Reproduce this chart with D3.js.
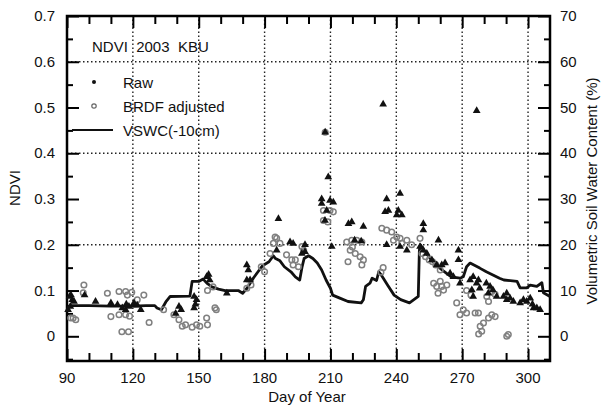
<!DOCTYPE html>
<html>
  <head>
    <meta charset="utf-8">
    <script src="https://d3js.org/d3.v7.min.js"></script>
    <title>NDVI 2003 KBU</title>
    <style>
      body { margin: 0; background: #fff; }
      text { font-family: Arial, "Liberation Sans", sans-serif; fill: #111; }
    </style>
  </head>
  <body>
    <div id="chart"></div>
  <script>

    // DATA (day of year, NDVI) and (day of year, VSWC %)

    var raw = [
	[90.5,0.058],[91.2,0.087],[91.8,0.09],[92.4,0.08],[93.2,0.076],[91.5,0.065],[98,0.09],[103,0.076],
	[110,0.073],[113,0.069],[115.2,0.062],[116.7,0.058],[118.2,0.065],[117,0.07],[120.5,0.073],[123.6,0.058],
	[122,0.068],[139.5,0.05],[141,0.065],[142,0.058],[147.9,0.087],[147.9,0.062],[149,0.08],[148.5,0.07],
	[153.6,0.13],[155,0.123],[154.5,0.135],[162.8,0.094],[171.9,0.156],[172.6,0.145],[173.4,0.123],[171.9,0.123],
	[186.3,0.257],[185.5,0.188],[191.6,0.206],[193,0.203],[197,0.181],[198.4,0.185],[198.4,0.2],[206,0.29],
	[208.3,0.275],[207.5,0.253],[209,0.348],[206,0.30],[211.3,0.293],[209.8,0.297],[210.6,0.196],[207.6,0.446],
	[218.2,0.246],[219.7,0.25],[225,0.24],[221,0.21],[224,0.208],[234,0.507],[276.6,0.493],[235.6,0.30],
	[236.4,0.275],[234.9,0.272],[241.7,0.312],[240.9,0.275],[242.5,0.265],[240.2,0.265],[235.6,0.2],[241.7,0.196],
	[244.8,0.188],[252.3,0.246],[252.3,0.232],[259.2,0.21],[250.8,0.196],[252.3,0.188],[253.9,0.181],[256.2,0.167],
	[258.4,0.156],[260.7,0.156],[262.2,0.16],[264.5,0.138],[266,0.13],[268.3,0.188],[268.3,0.167],[269,0.116],
	[273.6,0.123],[274.4,0.101],[276.6,0.116],[275,0.087],[278,0.105],[275,0.13],[277.4,0.123],[281,0.116],
	[281.9,0.094],[284,0.101],[285.7,0.087],[282.7,0.109],[288.8,0.087],[290.3,0.08],[291.8,0.083],[293.3,0.076],
	[296.4,0.073],[297.9,0.08],[299.4,0.076],[301,0.083],[302.5,0.062],[304,0.062],[290.3,0.094],[305.5,0.058],
	[302,0.07]
    ];

    var brdf = [
	[97.7,0.112],[97.4,0.095],[91.7,0.04],[94,0.036],[92.8,0.04],[108.4,0.094],[113.7,0.098],[116.7,0.098],
	[117.5,0.09],[119.5,0.096],[110,0.043],[113.7,0.047],[116.7,0.047],[118.5,0.044],[122,0.08],[125,0.09],
	[115,0.01],[118,0.01],[127.4,0.03],[134,0.058],[138.7,0.047],[141,0.036],[142.5,0.022],[144,0.025],
	[149,0.025],[150.5,0.022],[154,0.025],[153.6,0.04],[147,0.02],[154,0.1],[156.5,0.108],[157.4,0.062],
	[158,0.058],[171.9,0.105],[173.8,0.112],[178.5,0.152],[180,0.141],[182.5,0.181],[184,0.203],[185.5,0.214],
	[187,0.203],[184.8,0.217],[190,0.178],[192.4,0.167],[193,0.156],[194,0.167],[195.4,0.152],[197,0.196],
	[197.8,0.188],[206.8,0.275],[209.8,0.275],[211.3,0.272],[206.8,0.253],[208.8,0.25],[207.6,0.446],[217.4,0.206],
	[219.7,0.21],[222,0.21],[224.3,0.206],[219,0.188],[221.3,0.181],[223.5,0.174],[225,0.167],[218,0.163],
	[224.3,0.156],[220,0.195],[233.4,0.236],[235.6,0.232],[237.9,0.228],[240.2,0.217],[241.7,0.214],[244.8,0.21],
	[247,0.2],[238.7,0.21],[242.5,0.203],[233,0.14],[234,0.15],[250.8,0.214],[251.7,0.181],[253.3,0.174],
	[255,0.167],[256.5,0.163],[258,0.156],[260,0.145],[257,0.116],[258.4,0.109],[260,0.12],[261.5,0.101],
	[263,0.112],[259,0.094],[260.7,0.109],[267.5,0.073],[270.5,0.058],[272,0.051],[275.9,0.051],[269,0.047],
	[277.4,0.051],[278.2,0.022],[279.7,0.029],[282,0.04],[283.5,0.047],[285,0.043],[278.9,0.011],[277.5,0.005],
	[290.3,0.0],[291,0.004],[281.2,0.087],[282,0.076],[283.5,0.098],[285,0.092],[272,0.1],[274,0.09]
    ];

    var vswc = [
	[90,5.8],[91,6.6],[92,6.7],[100,6.7],[110,6.6],[120,6.6],[126,6.7],[130,6.7],[131,6.2],[133,5.8],
	[135,7.5],[137,8.7],[146,8.8],[147,12.0],[150,12.0],[152,12.5],[154,11.5],[156,10.8],[159,10.3],[162,10.0],
	[168,10.0],[170,9.4],[172,10.5],[175,12.8],[177,14.1],[179,15.4],[182,16.3],[184,17.6],[185,17.0],[187,16.5],
	[189,15.2],[192,14.1],[194,13.0],[196,12.3],[197,15.0],[198,17.0],[200,17.6],[202,17.0],[204,16.0],[206,14.5],
	[208,12.3],[210,10.5],[211,9.0],[214,8.4],[218,7.6],[224,7.3],[225,8.0],[226,10.9],[228,11.6],[229,12.7],
	[231,12.2],[232,14.1],[233,13.5],[236,11.2],[239,9.0],[242,8.0],[246,7.3],[248,8.0],[250,8.7],[250.5,18.8],
	[251,20.0],[253,18.5],[256,16.7],[259,15.2],[262,14.1],[265,13.0],[269,12.7],[270.5,13.0],[272,15.2],[273.6,16.0],
	[278,14.9],[281,14.1],[284,13.4],[287,12.7],[289,12.3],[295,12.0],[296.4,10.6],[299.4,10.6],[301,11.2],[304,10.9],
	[306.3,11.7],[307,9.5],[310,8.7]
    ];

    var xTicks = [90, 120, 150, 180, 210, 240, 270, 300];
    var yTicks = [0, 0.1, 0.2, 0.3, 0.4, 0.5, 0.6, 0.7];
    var y2Ticks = [0, 10, 20, 30, 40, 50, 60, 70];
    var gridX = [120, 150, 180, 210, 240, 270, 300];
    var gridY = [0.2, 0.4, 0.6];

    // LAYOUT

    const W = 601, H = 406;
    const margin = {top: 16, left: 67, right: 51, bottom: 45};

    var svg = d3.select('#chart').append('svg')
	.attr('width', W)
	.attr('height', H);

    var x = d3.scaleLinear().domain([90, 310]).range([margin.left, W - margin.right]);
    var y = d3.scaleLinear().domain([-0.054, 0.7]).range([H - margin.bottom, margin.top]);
    var y2 = d3.scaleLinear().domain([-5.4, 70]).range([H - margin.bottom, margin.top]);

    var x0 = margin.left, x1 = W - margin.right;
    var y0 = H - margin.bottom, y1 = margin.top;

    // grid
    var grid = svg.append('g')
	.attr('stroke', '#222')
	.attr('stroke-width', 1.4)
	.attr('stroke-dasharray', '1.5,2.5');
    grid.selectAll('line.gx').data(gridX).enter().append('line')
	.attr('x1', d => x(d)).attr('x2', d => x(d))
	.attr('y1', y0).attr('y2', y1);
    grid.selectAll('line.gy').data(gridY).enter().append('line')
	.attr('x1', x0).attr('x2', x1)
	.attr('y1', d => y(d)).attr('y2', d => y(d));

    // axes (ticks inward)
    var minorX = d3.range(100, 310, 10).filter(d => d % 30 != 0);
    var minorY = d3.range(-0.05, 0.7, 0.1);

    svg.append('g').attr('transform', 'translate(0,' + y0 + ')')
	.call(d3.axisTop(x).tickValues(xTicks).tickSize(12).tickFormat(''));
    svg.append('g').attr('transform', 'translate(0,' + y0 + ')')
	.call(d3.axisTop(x).tickValues(minorX).tickSize(8).tickFormat(''));
    svg.append('g').attr('transform', 'translate(0,' + y1 + ')')
	.call(d3.axisBottom(x).tickValues(xTicks).tickSize(12).tickFormat(''));
    svg.append('g').attr('transform', 'translate(0,' + y1 + ')')
	.call(d3.axisBottom(x).tickValues(minorX).tickSize(8).tickFormat(''));

    svg.append('g').attr('transform', 'translate(' + x0 + ',0)')
	.call(d3.axisRight(y).tickValues(yTicks).tickSize(12).tickFormat(''));
    svg.append('g').attr('transform', 'translate(' + x0 + ',0)')
	.call(d3.axisRight(y).tickValues(minorY).tickSize(6).tickFormat(''));
    svg.append('g').attr('transform', 'translate(' + x1 + ',0)')
	.call(d3.axisLeft(y2).tickValues(y2Ticks).tickSize(12).tickFormat(''));
    svg.append('g').attr('transform', 'translate(' + x1 + ',0)')
	.call(d3.axisLeft(y).tickValues(minorY).tickSize(6).tickFormat(''));

    svg.selectAll('.domain').remove();
    svg.selectAll('.tick line').attr('stroke', '#000').attr('stroke-width', 2);

    // tick labels
    svg.selectAll('text.xl').data(xTicks).enter().append('text')
	.attr('x', d => x(d)).attr('y', y0 + 22)
	.attr('text-anchor', 'middle').attr('font-size', 15)
	.text(d => d);
    svg.selectAll('text.yl').data(yTicks).enter().append('text')
	.attr('x', x0 - 12).attr('y', d => y(d) + 5)
	.attr('text-anchor', 'end').attr('font-size', 15)
	.text(d => d3.format('.1f')(d).replace('0.0', '0'));
    svg.selectAll('text.y2l').data(y2Ticks).enter().append('text')
	.attr('x', x1 + 10).attr('y', d => y2(d) + 5)
	.attr('text-anchor', 'start').attr('font-size', 15)
	.text(d => d);

    // axis titles
    svg.append('text').attr('x', 307).attr('y', 402)
	.attr('text-anchor', 'middle').attr('font-size', 15).text('Day of Year');
    svg.append('text').attr('transform', 'translate(20,188) rotate(-90)')
	.attr('text-anchor', 'middle').attr('font-size', 15).text('NDVI');
    svg.append('text').attr('transform', 'translate(597,191) rotate(-90)')
	.attr('text-anchor', 'middle').attr('font-size', 15).text('Volumetric Soil Water Content (%)');

    // frame
    svg.append('rect')
	.attr('x', x0).attr('y', y1)
	.attr('width', x1 - x0).attr('height', y0 - y1)
	.attr('fill', 'none').attr('stroke', '#000').attr('stroke-width', 2.5);

    // VSWC line (right axis)
    var line = d3.line().x(d => x(d[0])).y(d => y2(d[1]));
    svg.append('path').datum(vswc)
	.attr('d', line)
	.attr('fill', 'none')
	.attr('stroke', '#111')
	.attr('stroke-width', 2.8)
	.attr('stroke-linejoin', 'round');

    // BRDF adjusted (open circles)
    svg.selectAll('circle.brdf').data(brdf).enter().append('circle')
	.attr('class', 'brdf')
	.attr('cx', d => x(d[0])).attr('cy', d => y(d[1]))
	.attr('r', 2.8)
	.attr('fill', 'none').attr('stroke', '#808080').attr('stroke-width', 1.5);

    // Raw (filled)
    svg.selectAll('path.raw').data(raw).enter().append('path')
	.attr('class', 'raw')
	.attr('transform', d => 'translate(' + x(d[0]) + ',' + y(d[1]) + ')')
	.attr('d', d3.symbol().type(d3.symbolTriangle).size(26))
	.attr('fill', '#111');

    // title + legend
    svg.append('text').attr('x', 92).attr('y', 52).attr('font-size', 15)
	.attr('xml:space', 'preserve').style('white-space', 'pre')
	.text('NDVI  2003  KBU');

    var leg = svg.append('g');
    leg.append('circle').attr('cx', 94).attr('cy', 82).attr('r', 2).attr('fill', '#111');
    leg.append('text').attr('x', 123).attr('y', 88).attr('font-size', 15).text('Raw');
    leg.append('circle').attr('cx', 94).attr('cy', 106).attr('r', 2.2)
	.attr('fill', 'none').attr('stroke', '#666').attr('stroke-width', 1.2);
    leg.append('text').attr('x', 123).attr('y', 112).attr('font-size', 15).text('BRDF adjusted');
    leg.append('line').attr('x1', 72).attr('x2', 113).attr('y1', 130).attr('y2', 130)
	.attr('stroke', '#111').attr('stroke-width', 2);
    leg.append('text').attr('x', 123).attr('y', 136).attr('font-size', 15).text('VSWC(-10cm)');

  </script>
  </body>
</html>
